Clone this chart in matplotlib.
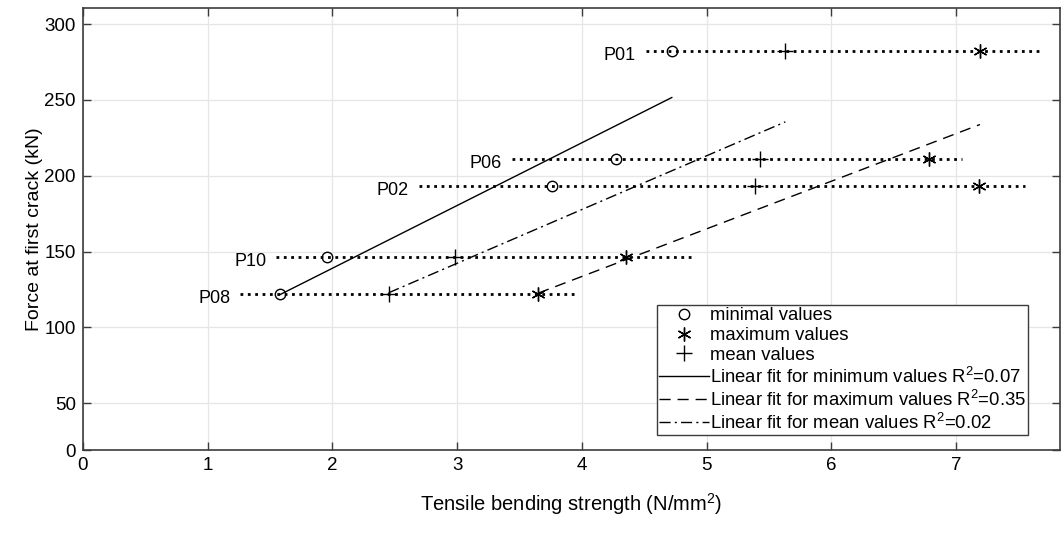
import numpy as np
import matplotlib
matplotlib.use('Agg')
import matplotlib.pyplot as plt

plt.rcParams['font.family'] = ['Liberation Sans', 'DejaVu Sans']
plt.rcParams['mathtext.fontset'] = 'custom'
plt.rcParams['mathtext.rm'] = 'Liberation Sans'

# specimens, force at first crack (kN)
specimens = ['P01', 'P06', 'P02', 'P10', 'P08']
force = [282.0, 211.0, 193.5, 146.5, 122.3]

# tensile bending strength (N/mm2)
min_vals = [4.72, 4.27, 3.76, 1.96, 1.58]
max_vals = [7.19, 6.78, 7.18, 4.35, 3.65]
mean_vals = [5.63, 5.43, 5.39, 2.98, 2.45]

# extent of the dotted range lines
range_lo = [4.51, 3.44, 2.69, 1.55, 1.26]
range_hi = [7.67, 7.05, 7.55, 4.90, 3.95]

r2 = {'min': 0.07, 'max': 0.35, 'mean': 0.02}

axcol = '#3c3c3c'

fig = plt.figure(figsize=(10.63, 5.45), dpi=100)
ax = fig.add_axes([0.078, 0.174, 0.919, 0.811])

# dotted range lines + labels
for name, f, lo, hi in zip(specimens, force, range_lo, range_hi):
    ax.plot([lo, hi], [f, f], ':', color='black', lw=2.0, zorder=3)
    ax.text(lo - 0.08, f - 3, name, ha='right', va='center', fontsize=13)

h_min, = ax.plot(min_vals, force, 'o', mfc='none', mec='black', ms=7.5, mew=1.0,
                 ls='none', zorder=4, label='minimal values')
h_max, = ax.plot(max_vals, force, marker=(6, 2, 0), color='black', ms=10, mew=1.0,
                 ls='none', zorder=4, label='maximum values')
h_mean, = ax.plot(mean_vals, force, '+', color='black', ms=11, mew=1.0,
                  ls='none', zorder=4, label='mean values')

# linear fits over each series range
def fit_line(xv, yv):
    p = np.polyfit(xv, yv, 1)
    xs = np.array([min(xv), max(xv)])
    return xs, np.polyval(p, xs)

xs, ys = fit_line(min_vals, force)
f_min, = ax.plot(xs, ys, '-', color='black', lw=1.0, zorder=2,
                 label='Linear fit for minimum values R$^2$=%.2f' % r2['min'])
xs, ys = fit_line(max_vals, force)
f_max, = ax.plot(xs, ys, color='black', lw=1.0, zorder=2, dashes=(8, 5),
                 label='Linear fit for maximum values R$^2$=%.2f' % r2['max'])
xs, ys = fit_line(mean_vals, force)
f_mean, = ax.plot(xs, ys, color='black', lw=1.0, zorder=2, dashes=(8, 3, 1.5, 3),
                  label='Linear fit for mean values R$^2$=%.2f' % r2['mean'])

ax.set_xlim(0, 7.83)
ax.set_ylim(19, 310.5)
ax.set_xticks(range(0, 8))
yt = [19, 50, 100, 150, 200, 250, 300]
ax.set_yticks(yt)
ax.set_yticklabels(['0', '50', '100', '150', '200', '250', '300'])

ax.grid(True, color='#e6e6e6', lw=0.9)
ax.set_axisbelow(True)
ax.tick_params(direction='in', top=True, right=True, length=6, width=1.0,
               color=axcol, labelsize=13.5, pad=5)
for s in ax.spines.values():
    s.set_color(axcol)
    s.set_linewidth(1.2)

ax.set_xlabel('Tensile bending strength (N/mm$^2$)', fontsize=14.5, labelpad=12)
ax.set_ylabel('Force at first crack (kN)', fontsize=14, labelpad=1)

leg = ax.legend(handles=[h_min, h_max, h_mean, f_min, f_max, f_mean],
                loc='upper left', bbox_to_anchor=(0.5875, 0.328), borderaxespad=0,
                fontsize=13.3, frameon=True, fancybox=False, framealpha=1,
                edgecolor=axcol, labelspacing=0.15, handlelength=2.7,
                handletextpad=0.05, borderpad=0.12)
leg.get_frame().set_linewidth(1.0)

fig.savefig('out.png', dpi=100)
